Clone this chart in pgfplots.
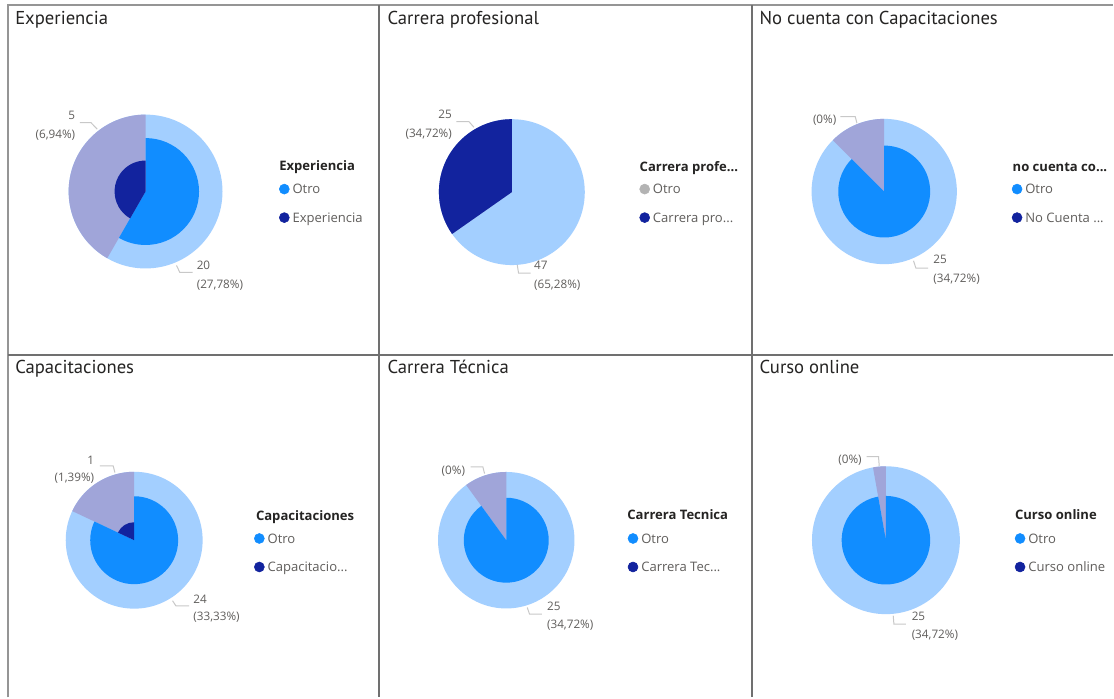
\documentclass[border=0pt]{standalone}
\usepackage{fontspec}
\setmainfont{Open Sans}
\newfontfamily\titlefont{PT Sans}
\usepackage{pgfplots}
\usepackage{pgfplotstable}
\pgfplotsset{compat=1.18}

\definecolor{pbsky}{HTML}{A3CFFF}
\definecolor{pbblue}{HTML}{118DFF}
\definecolor{pbnavy}{HTML}{12239E}
\definecolor{pblav}{HTML}{A0A5D9}
\definecolor{pbgray}{HTML}{B3B3B3}
\definecolor{txtdark}{HTML}{252423}
\definecolor{txtgray}{HTML}{605E5C}
\definecolor{framedark}{HTML}{707070}
\definecolor{framelight}{HTML}{959595}
\definecolor{leader}{HTML}{C8C8C8}

% one row per panel: centre (px), outer / middle / inner radius (px), share of the dark slice (%)
\pgfplotstableread{
cx     cy     ro    rm    rn    share
145.7  191.7  77.0  53.5  31.0  41.7
512.3  192.3  73.0  0     73.0  34.72
885.0  191.7  72.7  46.0  0     12.5
134.3  540.7  68.5  44.0  18.0  18.0
506.7  540.7  68.3  42.5  0     10.0
886.7  540.7  74.0  44.3  0     2.8
}\pies

\newcommand\drawpie[1]{%
  \pgfplotstablegetelem{#1}{cx}\of\pies \let\cx\pgfplotsretval
  \pgfplotstablegetelem{#1}{cy}\of\pies \let\cy\pgfplotsretval
  \pgfplotstablegetelem{#1}{ro}\of\pies \pgfmathsetmacro\rout{0.75*\pgfplotsretval}
  \pgfplotstablegetelem{#1}{rm}\of\pies \pgfmathsetmacro\rmid{0.75*\pgfplotsretval}
  \pgfplotstablegetelem{#1}{rn}\of\pies \pgfmathsetmacro\rin{0.75*\pgfplotsretval}
  \pgfplotstablegetelem{#1}{share}\of\pies \pgfmathsetmacro\ang{3.6*\pgfplotsretval}
  \pgfmathsetmacro\rest{\ang-360}
  \fill[pbsky] (axis cs:\cx,\cy) circle[radius=\rout pt];
  \fill[pblav] (axis cs:\cx,\cy) -- ++(90:\rout pt) arc[start angle=90, delta angle=\ang, radius=\rout pt] -- cycle;
  \ifdim\rmid pt>0pt
    \fill[pbblue] (axis cs:\cx,\cy) -- ++(90:\rmid pt) arc[start angle=90, delta angle=\rest, radius=\rmid pt] -- cycle;
  \fi
  \ifdim\rin pt>0pt
    \fill[pbnavy] (axis cs:\cx,\cy) -- ++(90:\rin pt) arc[start angle=90, delta angle=\ang, radius=\rin pt] -- cycle;
  \fi
}

\pgfplotsset{
  panel/.style={
    x=0.75pt, y=0.75pt, xmin=0, xmax=1114, ymin=0, ymax=698, y dir=reverse,
    hide axis, clip=false,
    legend style={draw=none, fill=none, inner sep=0pt, outer sep=0pt,
      row sep=13.5pt, /tikz/column sep=2.25pt, anchor=north west,
      font=\fontsize{9.8}{11}\selectfont, text=txtgray,
      nodes={inner sep=0pt, outer sep=0pt, text height=7pt, text depth=0pt},
      cells={anchor=west}},
    legend image code/.code={\fill (3.75pt,0pt) circle[radius=3.75pt];},
  },
}
\tikzset{
  ptitle/.style={anchor=west, inner sep=0pt, text height=10pt, text depth=0pt,
    text=txtdark, font=\titlefont\fontsize{14}{16}\selectfont},
  ltitle/.style={anchor=west, inner sep=0pt, text height=7pt, text depth=0pt,
    text=txtdark, font=\bfseries\fontsize{9.8}{11}\selectfont},
  lbl/.style={inner sep=0pt, text height=6.3pt, text depth=0pt,
    text=txtgray, font=\fontsize{8.8}{10}\selectfont},
  lead/.style={draw=leader, line width=0.75pt},
}

\begin{document}
\begin{tikzpicture}
% Experiencia
\begin{axis}[panel, legend style={at={(axis cs:279.3,184)}}]
  \fill[white] (axis cs:0,0) rectangle (axis cs:1114,698);
  \draw[framelight, line width=1.5pt] (axis cs:8,698) -- (axis cs:8,5.5) -- (axis cs:1114,5.5);
  \draw[framedark, line width=1.5pt] (axis cs:379.5,5.5) -- (axis cs:379.5,698);
  \draw[framedark, line width=1.5pt] (axis cs:753,5.5) -- (axis cs:753,698);
  \draw[framedark, line width=1.5pt] (axis cs:8,355) -- (axis cs:1114,355);
  \pgfplotsextra{\drawpie{0}}
  \node[ptitle] at (axis cs:15,18) {Experiencia};
  \draw[lead] (axis cs:80,122.7) -- (axis cs:91,122.7) -- (axis cs:97.3,129.3);
  \draw[lead] (axis cs:176.7,265.7) -- (axis cs:180,272.7) -- (axis cs:192.7,272.7);
  \node[lbl, anchor=east] at (axis cs:75.5,115) {5};
  \node[lbl, anchor=east] at (axis cs:75.5,134.5) {(6,94\%)};
  \node[lbl, anchor=west] at (axis cs:196.7,265.7) {20};
  \node[lbl, anchor=west] at (axis cs:196.7,285) {(27,78\%)};
  \node[ltitle] at (axis cs:279.3,166.3) {Experiencia};
  \addlegendimage{pbblue}\addlegendentry{Otro}
  \addlegendimage{pbnavy}\addlegendentry{Experiencia}
\end{axis}
% Carrera profesional
\begin{axis}[panel, legend style={at={(axis cs:640,184)}}]
  \pgfplotsextra{\drawpie{1}}
  \node[ptitle] at (axis cs:387.7,18) {Carrera profesional};
  \draw[lead] (axis cs:456.7,121.7) -- (axis cs:469.3,121.7) -- (axis cs:474.3,127.3);
  \draw[lead] (axis cs:517.7,265) -- (axis cs:519,273.3) -- (axis cs:531,273.3);
  \node[lbl, anchor=east] at (axis cs:452.5,114) {25};
  \node[lbl, anchor=east] at (axis cs:452.5,133.3) {(34,72\%)};
  \node[lbl, anchor=west] at (axis cs:534.3,265.7) {47};
  \node[lbl, anchor=west] at (axis cs:534.3,285) {(65,28\%)};
  \node[ltitle] at (axis cs:640,166.7) {Carrera profe...};
  \addlegendimage{pbgray}\addlegendentry{Otro}
  \addlegendimage{pbnavy}\addlegendentry{Carrera pro...}
\end{axis}
% No cuenta con Capacitaciones
\begin{axis}[panel, legend style={at={(axis cs:1012.7,184)}}]
  \pgfplotsextra{\drawpie{2}}
  \node[ptitle] at (axis cs:760,18) {No cuenta con Capacitaciones};
  \draw[lead] (axis cs:841,116.7) -- (axis cs:856,116.7) -- (axis cs:857.7,123.3);
  \draw[lead] (axis cs:914.3,261) -- (axis cs:916.7,268.3) -- (axis cs:929,268.3);
  \node[lbl, anchor=east] at (axis cs:837.3,119) {(0\%)};
  \node[lbl, anchor=west] at (axis cs:934,259.3) {25};
  \node[lbl, anchor=west] at (axis cs:934,278.3) {(34,72\%)};
  \node[ltitle] at (axis cs:1013.3,166.7) {no cuenta co...};
  \addlegendimage{pbblue}\addlegendentry{Otro}
  \addlegendimage{pbnavy}\addlegendentry{No Cuenta ...}
\end{axis}
% Capacitaciones
\begin{axis}[panel, legend style={at={(axis cs:254.3,533.7)}}]
  \pgfplotsextra{\drawpie{3}}
  \node[ptitle] at (axis cs:15,367.2) {Capacitaciones};
  \draw[lead] (axis cs:100,466.3) -- (axis cs:113.3,466.3) -- (axis cs:115,473);
  \draw[lead] (axis cs:172.7,601.3) -- (axis cs:176,606.3) -- (axis cs:189.3,606.3);
  \node[lbl, anchor=east] at (axis cs:94.5,460.3) {1};
  \node[lbl, anchor=east] at (axis cs:94.5,477.3) {(1,39\%)};
  \node[lbl, anchor=west] at (axis cs:193.3,599.7) {24};
  \node[lbl, anchor=west] at (axis cs:193.3,617.3) {(33,33\%)};
  \node[ltitle] at (axis cs:256,515.8) {Capacitaciones};
  \addlegendimage{pbblue}\addlegendentry{Otro}
  \addlegendimage{pbnavy}\addlegendentry{Capacitacio...}
\end{axis}
% Carrera Tecnica
\begin{axis}[panel, legend style={at={(axis cs:628.3,533.7)}}]
  \pgfplotsextra{\drawpie{4}}
  \node[ptitle] at (axis cs:387.7,367.2) {Carrera Técnica};
  \draw[lead] (axis cs:471,467.3) -- (axis cs:483.3,467.3) -- (axis cs:485,474);
  \draw[lead] (axis cs:527.7,608) -- (axis cs:530,614.7) -- (axis cs:542.3,614.7);
  \node[lbl, anchor=east] at (axis cs:465.7,470.7) {(0\%)};
  \node[lbl, anchor=west] at (axis cs:547.3,607.3) {25};
  \node[lbl, anchor=west] at (axis cs:547.3,624.7) {(34,72\%)};
  \node[ltitle] at (axis cs:627.7,515.7) {Carrera Tecnica};
  \addlegendimage{pbblue}\addlegendentry{Otro}
  \addlegendimage{pbnavy}\addlegendentry{Carrera Tec...}
\end{axis}
% Curso online
\begin{axis}[panel, legend style={at={(axis cs:1015.7,533.7)}}]
  \pgfplotsextra{\drawpie{5}}
  \node[ptitle] at (axis cs:760,367.2) {Curso online};
  \draw[lead] (axis cs:867.3,457) -- (axis cs:879.3,457) -- (axis cs:880,466.3);
  \draw[lead] (axis cs:894,616.3) -- (axis cs:894.7,624.7) -- (axis cs:906.7,624.7);
  \node[lbl, anchor=east] at (axis cs:862.7,459.7) {(0\%)};
  \node[lbl, anchor=west] at (axis cs:912.3,617.3) {25};
  \node[lbl, anchor=west] at (axis cs:912.3,635.3) {(34,72\%)};
  \node[ltitle] at (axis cs:1015.7,515.7) {Curso online};
  \addlegendimage{pbblue}\addlegendentry{Otro}
  \addlegendimage{pbnavy}\addlegendentry{Curso online}
\end{axis}
\end{tikzpicture}
\end{document}
